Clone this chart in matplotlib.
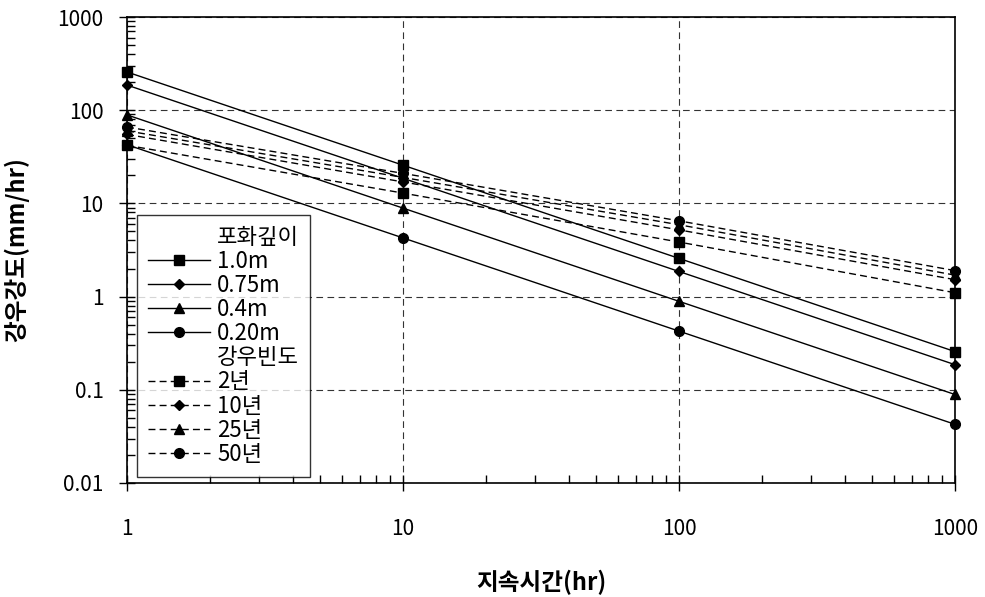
import matplotlib
matplotlib.use("Agg")
import matplotlib.pyplot as plt
from matplotlib.lines import Line2D
from matplotlib.ticker import FixedLocator, FixedFormatter, LogLocator, NullFormatter

plt.rcParams['font.family'] = ['Noto Sans CJK KR', 'DejaVu Sans']

# 데이터
duration = [1, 10, 100, 1000]

depth_labels = ["1.0m", "0.75m", "0.4m", "0.20m"]
depth_values = [
    [257, 25.7, 2.57, 0.257],
    [186, 18.6, 1.86, 0.186],
    [89, 8.9, 0.89, 0.089],
    [42.6, 4.26, 0.426, 0.0426],
]

freq_labels = ["2년", "10년", "25년", "50년"]
freq_values = [
    [42, 12.9, 3.85, 1.1],
    [55, 17.0, 5.2, 1.52],
    [60, 19.0, 5.9, 1.7],
    [66, 21.0, 6.5, 1.9],
]

markers = ['s', 'D', '^', 'o']
msizes = [6.5, 5, 6.5, 7]

fig = plt.figure(figsize=(9.85, 5.97), dpi=100)
ax = fig.add_axes([0.129, 0.191, 0.8405, 0.7805])

for vals, m, ms in zip(depth_values, markers, msizes):
    ax.plot(duration, vals, color='black', lw=1, marker=m, ms=ms, clip_on=False, zorder=3)
for vals, m, ms in zip(freq_values, markers, msizes):
    ax.plot(duration, vals, color='black', lw=1, ls=(0, (5, 3)), marker=m, ms=ms,
            clip_on=False, zorder=3)

ax.set_xscale('log')
ax.set_yscale('log')
ax.set_xlim(1, 1000)
ax.set_ylim(0.01, 1000)

xt = [1, 10, 100, 1000]
yt = [0.01, 0.1, 1, 10, 100, 1000]
ax.xaxis.set_major_locator(FixedLocator(xt))
ax.xaxis.set_major_formatter(FixedFormatter(["1", "10", "100", "1000"]))
ax.yaxis.set_major_locator(FixedLocator(yt))
ax.yaxis.set_major_formatter(FixedFormatter(["0.01", "0.1", "1", "10", "100", "1000"]))
ax.xaxis.set_minor_locator(LogLocator(base=10, subs=range(2, 10)))
ax.yaxis.set_minor_locator(LogLocator(base=10, subs=range(2, 10)))
ax.xaxis.set_minor_formatter(NullFormatter())
ax.yaxis.set_minor_formatter(NullFormatter())

ax.tick_params(which='major', direction='inout', length=12, width=1, labelsize=15)
ax.tick_params(axis='x', which='major', pad=19)
ax.tick_params(axis='y', which='major', pad=11)
ax.tick_params(which='minor', direction='in', length=6, width=1)

ax.grid(True, which='major', color='#333333', ls=(0, (6, 4)), lw=0.8)

for side in ['left', 'bottom', 'top', 'right']:
    ax.spines[side].set_linewidth(1.2)

ax.set_xlabel("지속시간(hr)", fontsize=17, fontweight='bold', labelpad=22)
ax.set_ylabel("강우강도(mm/hr)", fontsize=17, fontweight='bold', labelpad=20)

# 범례
blank = Line2D([], [], color='none')
handles = [blank]
labels = ["포화깊이"]
for lab, m, ms in zip(depth_labels, markers, msizes):
    handles.append(Line2D([], [], color='black', lw=1, marker=m, ms=ms))
    labels.append(lab)
handles.append(blank)
labels.append("강우빈도")
for lab, m, ms in zip(freq_labels, markers, msizes):
    handles.append(Line2D([], [], color='black', lw=1, ls=(0, (5, 3)), marker=m, ms=ms))
    labels.append(lab)

leg = ax.legend(handles, labels, loc='lower left', bbox_to_anchor=(0.012, 0.013),
                fontsize=16, frameon=True, fancybox=False, edgecolor='black',
                handlelength=2.8, handletextpad=0.3, labelspacing=0.05,
                borderaxespad=0, borderpad=0.5)
leg.get_frame().set_linewidth(1)
leg.set_zorder(5)

fig.savefig("out.png", dpi=100, facecolor='white')
